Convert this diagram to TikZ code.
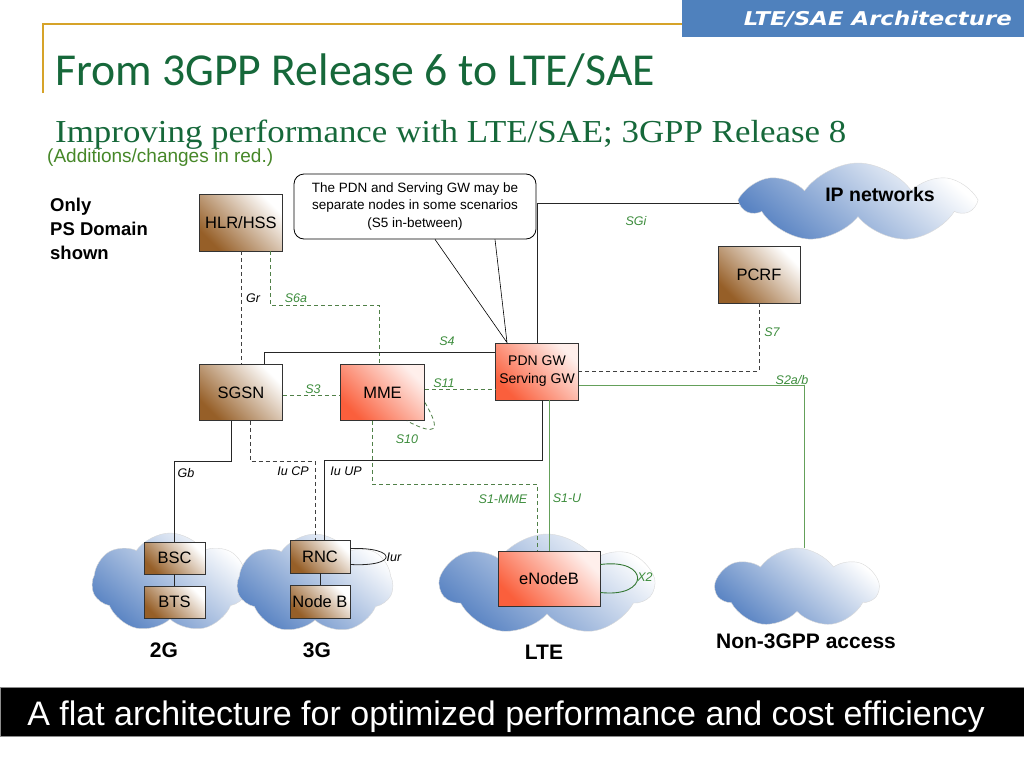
\documentclass[tikz,border=0pt]{standalone}
\usepackage{fontspec}
\setmainfont{Liberation Sans}
\newfontfamily\titlefont{Carlito}
\newfontfamily\subtitlefont[FakeStretch=1.09]{Liberation Serif}
\newfontfamily\bannerfont[FakeStretch=1.2]{DejaVu Sans}
\usetikzlibrary{shapes.symbols}
\definecolor{bannerblue}{RGB}{79,129,189}
\definecolor{rulegold}{RGB}{214,163,41}
\definecolor{titlegreen}{RGB}{22,104,58}
\definecolor{notegreen}{RGB}{70,135,40}
\definecolor{ifgreen}{RGB}{60,140,60}
\definecolor{linegreen}{RGB}{100,160,90}
\definecolor{nodebrown}{RGB}{150,95,40}
\definecolor{nodered}{RGB}{250,95,60}
\definecolor{cloudblue}{RGB}{90,132,195}

\begin{document}
\begin{tikzpicture}[x=1pt,y=-1pt,
  oldbox/.style={draw=black!80,line width=0.9pt,top color=white,bottom color=nodebrown,shading angle=-45,inner sep=0pt,font=\fontsize{16.5}{18}\selectfont},
  newbox/.style={draw=black!80,line width=0.9pt,top color=white!90!nodered,bottom color=nodered,shading angle=-45,inner sep=0pt,font=\fontsize{16.5}{18}\selectfont},
  net/.style={cloud,cloud puffs=7,cloud puff arc=110,cloud ignores aspect,draw=black!15,top color=white,bottom color=cloudblue,shading angle=-40,inner sep=0pt},
  iflabel/.style={font=\fontsize{12.5}{14}\selectfont\itshape,text=ifgreen,inner sep=1pt},
  oldlabel/.style={font=\fontsize{12.5}{14}\selectfont\itshape,text=black,inner sep=1pt},
  bigtext/.style={font=\fontsize{21}{24}\selectfont\bfseries,inner sep=0pt},
  oldline/.style={draw=black!85,line width=0.8pt},
  olddash/.style={draw=black!75,line width=0.8pt,dash pattern=on 4pt off 3pt},
  newline/.style={draw=linegreen,line width=0.9pt},
  newdash/.style={draw=linegreen!80!black,line width=0.8pt,dash pattern=on 4pt off 3pt}]
\useasboundingbox (0,0) rectangle (1024,768);

\fill[bannerblue] (682,0) rectangle (1024,37);
\node[anchor=base east,text=white,inner sep=0pt,font=\bannerfont\fontsize{19}{20}\selectfont\bfseries\itshape] (banner) at (1012,26) {LTE/SAE Architecture};
\draw[rulegold,line width=2pt] (43,93) -- (43,24.5) -- (682,24.5);
\node[anchor=base west,inner sep=0pt,text=titlegreen,font=\titlefont\fontsize{45.7}{50}\selectfont] (title) at (55,85) {From 3GPP Release 6 to LTE/SAE};
\node[anchor=base west,inner sep=0pt,text=titlegreen,font=\subtitlefont\fontsize{32}{36}\selectfont] (subtitle) at (55,142) {Improving performance with LTE/SAE; 3GPP Release 8};
\node[anchor=base west,inner sep=0pt,text=notegreen,font=\fontsize{19}{22}\selectfont] (note) at (47,162) {(Additions/changes in red.)};
\node[anchor=north west,align=left,inner sep=0pt,font=\fontsize{18.5}{24}\selectfont\bfseries] (psonly) at (50,198) {Only\\PS Domain\\shown};

\node[net,minimum width=228,minimum height=80] (ipnet) at (858,203) {};
\node[net,minimum width=156,minimum height=100] (net2g) at (170,583) {};
\node[net,minimum width=156,minimum height=100] (net3g) at (315,584) {};
\node[net,minimum width=212,minimum height=102] (netlte) at (547,585) {};
\node[net,minimum width=162,minimum height=80] (netn3) at (797,588) {};
\node[font=\fontsize{19.5}{22}\selectfont\bfseries,inner sep=0pt] (iptext) at (880,195) {IP networks};

\node[oldbox,minimum width=83,minimum height=57] (hlr) at (241,222.5) {HLR/HSS};
\node[oldbox,minimum width=83,minimum height=56] (sgsn) at (241,392.5) {SGSN};
\node[newbox,minimum width=84,minimum height=56] (mme) at (382.5,392.5) {MME};
\node[newbox,minimum width=83,minimum height=57,align=center,font=\fontsize{14}{18}\selectfont] (gw) at (537,371.5) {PDN GW\\Serving GW};
\node[oldbox,minimum width=82,minimum height=57] (pcrf) at (759,274.5) {PCRF};
\node[oldbox,minimum width=61,minimum height=32] (bsc) at (174.5,558) {BSC};
\node[oldbox,minimum width=61,minimum height=32] (bts) at (174.5,602) {BTS};
\node[oldbox,minimum width=60,minimum height=33] (rnc) at (320,556.5) {RNC};
\node[oldbox,minimum width=60,minimum height=33] (nodeb) at (320,601.5) {Node B};
\node[newbox,minimum width=102,minimum height=55] (enb) at (549,578.5) {eNodeB};

\node[draw,fill=white,rounded corners=10pt,line width=0.8pt,minimum width=242,minimum height=65,align=center,font=\fontsize{13.5}{17.5}\selectfont] (callout) at (415,206.5) {The PDN and Serving GW may be\\separate nodes in some scenarios\\(S5 in-between)};
\draw[line width=0.6pt] ([xshift=20]callout.south) -- ([xshift=-30]gw.north) -- ([xshift=80]callout.south);

\draw[olddash] (hlr.south) -- (sgsn.north);
\draw[newdash] ([xshift=29]hlr.south) -- ++(0,54) -| ([xshift=-3]mme.north);
\draw[oldline] ([yshift=19.5]gw.west) -| ([xshift=23]sgsn.north);
\draw[newdash] ([yshift=-3]sgsn.east) -- ([yshift=-3]mme.west);
\draw[newdash] ([yshift=3]mme.east) -- ([yshift=-18]gw.west);
\draw[newdash] ([yshift=-10]mme.east) .. controls (442,432) and (436,436) .. ([xshift=24.5]mme.south);
\draw[olddash] (pcrf.south) |- (gw.east);
\draw[newline] ([yshift=-13.5]gw.east) -| ([xshift=7]netn3.north);
\draw[oldline] (gw.north) |- (ipnet.west);
\draw[oldline] ([xshift=-10]sgsn.south) -- ++(0,40.5) -| (bsc.north);
\draw[olddash] ([xshift=9]sgsn.south) -- ++(0,40.5) -| ([xshift=-5]rnc.north);
\draw[oldline] ([xshift=4]rnc.north) -- ++(0,-79.5) -| ([xshift=5]gw.south);
\draw[newdash] ([xshift=-10.5]mme.south) -- ++(0,63) -| ([xshift=-12]enb.north);
\draw[newline] ([xshift=12]gw.south) -- (enb.north);
\draw[oldline] (bsc) -- (bts);
\draw[oldline] (rnc) -- (nodeb);
\draw[oldline] ([yshift=8]rnc.east) .. controls (398,547) and (398,567) .. ([yshift=-8]rnc.east);
\draw[newline,draw=ifgreen!85!black] ([yshift=14]enb.east) .. controls (650,558) and (650,598) .. ([yshift=-14]enb.east);

\node[oldlabel] (lgr) at (253,298) {Gr};
\node[iflabel] (ls6a) at (296,298) {S6a};
\node[iflabel] (ls4) at (447,341) {S4};
\node[iflabel] (ls3) at (313,389) {S3};
\node[iflabel] (ls11) at (444,383) {S11};
\node[iflabel] (ls10) at (407,439) {S10};
\node[iflabel] (lsgi) at (636,221) {SGi};
\node[iflabel] (ls7) at (772,332) {S7};
\node[iflabel] (ls2) at (792,380) {S2a/b};
\node[oldlabel] (lgb) at (186,473) {Gb};
\node[oldlabel] (lcp) at (293,471) {Iu CP};
\node[oldlabel] (lup) at (346,471) {Iu UP};
\node[iflabel] (ls1m) at (503,499) {S1-MME};
\node[iflabel] (ls1u) at (567,498) {S1-U};
\node[oldlabel] (liur) at (394,557) {Iur};
\node[iflabel] (lx2) at (645,577) {X2};

\node[bigtext] (l2g) at (164,650) {2G};
\node[bigtext] (l3g) at (317,650) {3G};
\node[bigtext] (llte) at (544,652) {LTE};
\node[bigtext] (lnon) at (806,641) {Non-3GPP access};

\node[fill=black,draw=black!45,line width=1pt,anchor=north west,minimum width=1024,minimum height=49,inner sep=0pt] (bar) at (0,687) {};
\node[anchor=base,text=white,inner sep=0pt,font=\fontsize{34}{36}\selectfont] (slogan) at (506,725) {A flat architecture for optimized performance and cost efficiency};
\end{tikzpicture}
\end{document}
